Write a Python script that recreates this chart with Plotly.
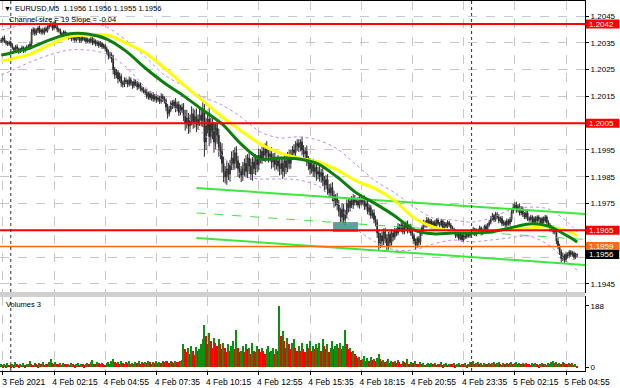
import pandas as pd
import plotly.graph_objects as go

# ---------------- data (prices stored as points above BASE: price = BASE + pts/100000)
BASE = 1.19
POINT = 1e-5
bar_start = "2021-02-03 23:30"   # EURUSD M5 bars
open_first = 1355

close_pts = [
    1360, 1368, 1355, 1350, 1345, 1352,
    1340, 1330, 1322, 1335, 1328, 1318, 1325, 1332, 1320, 1328, 1336, 1330,
    1345, 1390, 1400, 1385, 1395, 1405, 1390, 1398, 1388, 1402, 1395, 1408,
    1415, 1420, 1405, 1425, 1410, 1400, 1395, 1385, 1378, 1390, 1382, 1375,
    1370, 1380, 1365, 1372, 1360, 1375, 1368, 1358, 1370, 1362, 1366, 1355,
    1362, 1355, 1365, 1350, 1358, 1345, 1352, 1340, 1348, 1335, 1340, 1328,
    1315, 1300, 1305, 1290, 1250, 1230, 1240, 1215, 1225, 1200, 1195, 1210,
    1205, 1195, 1212, 1200, 1190, 1205, 1198, 1185, 1195, 1180, 1175, 1170,
    1165, 1150, 1160, 1145, 1155, 1140, 1150, 1138, 1145, 1132, 1150, 1140,
    1135, 1110, 1085, 1100, 1125, 1115, 1130, 1105, 1120, 1090, 1110, 1100,
    1080, 1050, 1070, 1040, 1060, 1085, 1055, 1075, 1045, 1065, 1080, 1060,
    1090, 980, 1040, 1065, 1000, 1050, 1020, 980, 1030, 1005, 960, 945,
    900, 870, 850, 880, 860, 895, 920, 900, 940, 910, 880, 870,
    855, 880, 900, 870, 920, 890, 860, 905, 880, 915, 895, 930,
    920, 945, 930, 955, 940, 925, 935, 905, 920, 895, 910, 890,
    880, 900, 870, 910, 885, 925, 900, 930, 950, 940, 965, 975,
    960, 980, 950, 935, 945, 910, 900, 880, 895, 870, 885, 860,
    870, 850, 865, 835, 820, 840, 805, 790, 810, 780, 760, 770,
    745, 720, 700, 730, 690, 710, 750, 735, 760, 745, 770, 755,
    760, 745, 770, 755, 765, 740, 750, 720, 735, 705, 715, 690,
    680, 640, 600, 630, 610, 645, 620, 590, 635, 605, 640, 625,
    650, 640, 665, 655, 670, 645, 660, 675, 650, 665, 640, 630,
    610, 595, 620, 605, 640, 660, 680, 670, 690, 675, 685, 670,
    680, 665, 690, 675, 670, 685, 660, 675, 665, 680, 670, 660,
    655, 645, 630, 640, 620, 635, 615, 630, 625, 640, 630, 645,
    640, 655, 635, 650, 645, 660, 640, 650, 665, 655, 670, 680,
    695, 705, 690, 710, 700, 685, 695, 675, 680, 670, 685, 675,
    690, 720, 735, 745, 725, 740, 715, 730, 710, 700, 715, 695,
    690, 700, 680, 695, 685, 700, 690, 675, 695, 685, 700, 680,
    670, 655, 660, 645, 650, 610, 590, 570, 545, 555, 540, 560,
    555, 570, 560, 565, 550, 562, 560,
]

hi_ext = [
    8, 6, 10, 5, 7, 6,
    6, 8, 5, 7, 9, 4, 6, 8, 5, 7, 6, 8,
    10, 12, 8, 6, 9, 7, 10, 5, 8, 6, 9, 7,
    8, 10, 6, 5, 9, 7, 6, 8, 5, 7, 6, 8,
    6, 8, 5, 7, 9, 6, 5, 8, 6, 7, 5, 6,
    7, 5, 8, 6, 9, 5, 7, 6, 8, 5, 7, 6,
    8, 10, 12, 9, 15, 10, 12, 8, 14, 10, 9, 11,
    10, 8, 12, 9, 7, 11, 8, 10, 9, 7, 8, 10,
    9, 12, 8, 10, 7, 11, 9, 8, 10, 7, 12, 9,
    10, 8, 12, 15, 9, 11, 8, 14, 10, 12, 9, 13,
    25, 20, 30, 18, 22, 28, 20, 25, 30, 18, 24, 26,
    40, 35, 30, 25, 45, 20, 28, 35, 22, 30, 25, 20,
    30, 25, 20, 28, 22, 18, 25, 30, 20, 24, 18, 22,
    20, 25, 18, 30, 15, 22, 28, 18, 24, 20, 16, 25,
    22, 18, 25, 20, 28, 16, 22, 25, 18, 20, 15, 22,
    30, 25, 20, 28, 22, 18, 25, 20, 15, 22, 18, 15,
    15, 10, 20, 18, 15, 22, 18, 20, 16, 22, 18, 20,
    18, 20, 15, 22, 18, 16, 20, 18, 15, 20, 18, 15,
    20, 18, 15, 22, 18, 16, 15, 20, 12, 18, 15, 12,
    12, 15, 10, 14, 12, 15, 10, 14, 12, 10, 12, 14,
    15, 12, 14, 10, 15, 12, 14, 16, 10, 12, 14, 10,
    10, 8, 12, 9, 10, 8, 11, 9, 12, 8, 10, 9,
    8, 10, 7, 9, 10, 8, 9, 7, 10, 8, 9, 7,
    6, 8, 5, 7, 6, 8, 5, 7, 6, 8, 5, 7,
    7, 5, 8, 6, 7, 5, 8, 6, 7, 5, 8, 6,
    6, 8, 5, 7, 6, 8, 5, 7, 6, 8, 7, 9,
    8, 10, 7, 9, 8, 10, 7, 9, 8, 7, 9, 8,
    10, 12, 15, 10, 12, 9, 11, 10, 9, 8, 10, 9,
    7, 8, 6, 7, 8, 6, 7, 8, 6, 7, 8, 6,
    8, 7, 9, 8, 10, 9, 12, 10, 9, 12, 8, 10,
    8, 6, 7, 8, 6, 5, 0,
]

lo_ext = [
    6, 8, 5, 9, 7, 6,
    8, 5, 9, 6, 7, 10, 6, 5, 8, 6, 7, 5,
    6, 8, 10, 9, 7, 8, 6, 9, 7, 8, 6, 7,
    7, 6, 9, 8, 6, 10, 7, 9, 8, 6, 9, 7,
    8, 6, 9, 7, 8, 6, 9, 7, 8, 6, 7, 9,
    6, 8, 7, 9, 6, 8, 7, 9, 6, 8, 7, 10,
    10, 12, 9, 14, 18, 15, 12, 16, 10, 14, 12, 10,
    9, 11, 8, 10, 12, 9, 10, 12, 8, 11, 10, 9,
    10, 9, 12, 8, 11, 10, 9, 12, 8, 10, 9, 11,
    12, 15, 18, 10, 9, 12, 10, 14, 11, 13, 10, 12,
    22, 28, 20, 30, 25, 18, 26, 22, 28, 20, 25, 22,
    25, 55, 30, 28, 35, 25, 30, 40, 28, 32, 35, 30,
    35, 40, 25, 30, 22, 28, 20, 25, 22, 28, 30, 25,
    25, 20, 28, 22, 25, 30, 22, 25, 20, 24, 28, 20,
    20, 22, 18, 25, 20, 22, 18, 25, 20, 22, 18, 20,
    25, 22, 28, 20, 25, 18, 22, 20, 18, 20, 15, 18,
    18, 15, 20, 22, 18, 20, 25, 22, 18, 20, 22, 25,
    20, 18, 22, 20, 25, 18, 22, 20, 18, 22, 25, 20,
    20, 18, 22, 20, 15, 18, 15, 18, 15, 12, 15, 12,
    12, 10, 14, 12, 10, 14, 12, 10, 14, 12, 10, 14,
    15, 18, 25, 15, 20, 15, 18, 15, 12, 15, 12, 15,
    10, 12, 9, 10, 12, 9, 10, 8, 12, 9, 10, 12,
    12, 15, 10, 12, 9, 10, 8, 9, 10, 8, 9, 10,
    7, 8, 6, 7, 8, 6, 7, 8, 6, 7, 8, 6,
    8, 6, 9, 7, 8, 6, 9, 7, 8, 6, 7, 8,
    7, 8, 6, 7, 8, 6, 9, 7, 6, 8, 7, 6,
    7, 8, 9, 7, 8, 9, 7, 10, 8, 9, 7, 8,
    8, 9, 8, 10, 9, 8, 10, 9, 10, 8, 9, 10,
    8, 7, 9, 8, 7, 9, 8, 7, 8, 9, 7, 8,
    8, 10, 9, 8, 10, 12, 10, 12, 15, 10, 12, 9,
    10, 8, 9, 8, 10, 7, 10,
]

volumes = [
    8, 5, 10, 6, 12, 7,
    6, 9, 5, 14, 8, 6, 10, 7, 12, 5, 8, 9,
    18, 10, 7, 12, 9, 6, 11, 8, 14, 7, 10, 9,
    15, 25, 12, 9, 14, 10, 8, 12, 7, 11, 9, 8,
    10, 7, 12, 8, 6, 9, 13, 7, 10, 8, 6, 9,
    11, 8, 14, 22, 10, 9, 16, 12, 8, 13, 10, 7,
    12, 15, 10, 18, 24, 14, 11, 16, 9, 20, 13, 10,
    14, 11, 18, 10, 13, 9, 15, 12, 17, 10, 14, 11,
    16, 12, 18, 14, 10, 15, 13, 19, 11, 16, 12, 18,
    14, 20, 17, 13, 19, 15, 12, 18, 16, 14, 20, 22,
    70, 55, 45, 60, 40, 65, 50, 38, 62, 48, 55, 72,
    85, 130, 95, 70, 105, 80, 60, 90, 75, 65, 85, 70,
    55, 75, 60, 45, 70, 50, 65, 80, 55, 115, 60, 45,
    50, 65, 45, 70, 55, 60, 40, 75, 50, 45, 65, 55,
    45, 60, 50, 40, 55, 65, 45, 50, 60, 40, 55, 48,
    188, 95, 110, 80, 60, 90, 70, 55, 75, 85, 60, 50,
    65, 50, 75, 55, 45, 70, 60, 80, 50, 65, 55, 70,
    60, 75, 50, 85, 65, 55, 70, 45, 60, 80, 55, 65,
    70, 60, 75, 55, 65, 115, 70, 55, 60, 45, 50, 40,
    35, 28, 30, 22, 25, 35, 20, 28, 18, 30, 22, 25,
    20, 28, 40, 25, 18, 22, 15, 20, 25, 12, 18, 15,
    18, 12, 22, 15, 10, 20, 14, 12, 25, 10, 16, 12,
    12, 18, 10, 8, 14, 9, 12, 7, 10, 13, 8, 11,
    9, 12, 7, 10, 8, 14, 6, 9, 11, 7, 10, 8,
    8, 11, 6, 9, 13, 7, 10, 8, 12, 6, 9, 14,
    10, 18, 8, 12, 15, 9, 11, 7, 13, 10, 8, 12,
    9, 12, 14, 8, 11, 16, 10, 7, 12, 9, 13, 8,
    11, 14, 9, 12, 16, 10, 13, 8, 11, 9, 12, 10,
    9, 7, 11, 8, 12, 10, 6, 9, 13, 8, 10, 7,
    12, 9, 14, 18, 11, 15, 10, 13, 9, 16, 12, 10,
    8, 11, 9, 12, 7, 10, 3,
]

# indicator lines, sampled at these times (points above BASE)
ma_times = (["2021-02-03 23:30"]
            + [t.strftime("%Y-%m-%d %H:%M") for t in pd.date_range("2021-02-04 00:00", "2021-02-05 05:00", freq="1h")]
            + ["2021-02-05 05:30"])
yellow_ma_pts = [1282, 1290, 1308, 1342, 1372, 1379, 1379, 1349, 1312, 1256, 1193, 1133, 1073, 1021, 972, 939,
                 920, 905, 875, 834, 805, 760, 696, 663, 648, 644, 648, 655, 659, 663, 648, 629]
green_ma_pts = [1304, 1312, 1331, 1360, 1383, 1383, 1364, 1319, 1256, 1200, 1152, 1099, 1047, 972, 916, 920,
                916, 898, 849, 790, 749, 704, 652, 637, 640, 640, 644, 659, 674, 666, 629, 607]
upper_band_pts = [1398, 1405, 1428, 1439, 1446, 1431, 1409, 1360, 1297, 1230, 1189, 1148, 1118, 1073, 1017, 995,
                  999, 987, 954, 894, 834, 790, 737, 696, 689, 681, 696, 726, 737, 730, 681, 644]
lower_band_pts = [1230, 1245, 1278, 1304, 1323, 1323, 1308, 1260, 1185, 1133, 1084, 1013, 931, 857, 842, 842,
                  838, 816, 752, 655, 607, 577, 577, 599, 614, 607, 614, 622, 629, 596, 532, 502]

channel_times = ["2021-02-04 09:40", "2021-02-05 05:55"]
channel_upper_pts = [808, 711]
channel_mid_pts = [715, 616]
channel_lower_pts = [622, 521]

red_levels = [1.2042, 1.2005, 1.1965]
orange_level = 1.1959
last_price = 1.1956

zones = [  # (start, end, low price, high price)
    ("2021-02-04 10:13", "2021-02-04 10:47", 1.20025, 1.20051),
    ("2021-02-04 16:47", "2021-02-04 18:05", 1.19644, 1.19681),
]

price_ticks = [1.1945, 1.1955, 1.1965, 1.1975, 1.1985, 1.1995, 1.2005, 1.2015, 1.2025, 1.2035, 1.2045]
hidden_tick_labels = [1.1955, 1.1965, 1.2005]   # covered by the price boxes
time_ticks = ["2021-02-03 23:35", "2021-02-04 02:15", "2021-02-04 04:55", "2021-02-04 07:35",
              "2021-02-04 10:15", "2021-02-04 12:55", "2021-02-04 15:35", "2021-02-04 18:15",
              "2021-02-04 20:55", "2021-02-04 23:35", "2021-02-05 02:15", "2021-02-05 04:55"]
time_labels = ["3 Feb 2021", "4 Feb 02:15", "4 Feb 04:55", "4 Feb 07:35", "4 Feb 10:15", "4 Feb 12:55",
               "4 Feb 15:35", "4 Feb 18:15", "4 Feb 20:55", "4 Feb 23:35", "5 Feb 02:15", "5 Feb 04:55"]
day_separators = ["2021-02-04 00:00", "2021-02-05 00:00"]

n = len(close_pts)
assert len(hi_ext) == n and len(lo_ext) == n and len(volumes) == n, (n, len(hi_ext), len(lo_ext), len(volumes))

# ---------------- build
def px(p):
    return round(BASE + p * POINT, 5)

times = pd.date_range(bar_start, periods=n, freq="5min")
opens = [open_first] + close_pts[:-1]
highs = [max(o, c) + h for o, c, h in zip(opens, close_pts, hi_ext)]
lows = [min(o, c) - l for o, c, l in zip(opens, close_pts, lo_ext)]

vol_colors = ["#0F8F0F"] + ["#0F8F0F" if volumes[i] > volumes[i - 1] else "#FF0000" for i in range(1, n)]

FONT = "Liberation Sans"
FS = 8.5
FS_INFO = 7.5
Y_RANGE = [1.19420, 1.20506]
MAIN_PX = 291.0                       # height of the price pane in pixels
PRICE_PER_PX = (Y_RANGE[1] - Y_RANGE[0]) / MAIN_PX

fig = go.Figure()

# bands
for arr in (upper_band_pts, lower_band_pts):
    fig.add_trace(go.Scatter(x=ma_times, y=[px(v) for v in arr], mode="lines",
                             line=dict(color="#C08BE8", width=1, dash="dot", shape="spline", smoothing=0.8),
                             hoverinfo="skip", showlegend=False, xaxis="x", yaxis="y"))

# channel
fig.add_trace(go.Scatter(x=channel_times, y=[px(v) for v in channel_mid_pts], mode="lines",
                         line=dict(color="#44E044", width=1, dash="dash"), showlegend=False))
for arr in (channel_upper_pts, channel_lower_pts):
    fig.add_trace(go.Scatter(x=channel_times, y=[px(v) for v in arr], mode="lines",
                             line=dict(color="#3EE63E", width=2), showlegend=False))

# candles
fig.add_trace(go.Candlestick(
    x=times, open=[px(v) for v in opens], high=[px(v) for v in highs],
    low=[px(v) for v in lows], close=[px(v) for v in close_pts],
    increasing=dict(line=dict(color="#2A2A2A", width=1), fillcolor="#FFFFFF"),
    decreasing=dict(line=dict(color="#2A2A2A", width=1), fillcolor="#2A2A2A"),
    whiskerwidth=0, showlegend=False, xaxis="x", yaxis="y"))

# moving averages
fig.add_trace(go.Scatter(x=ma_times, y=[px(v) for v in yellow_ma_pts], mode="lines",
                         line=dict(color="#FFFF00", width=3, shape="spline", smoothing=0.8), showlegend=False))
fig.add_trace(go.Scatter(x=ma_times, y=[px(v) for v in green_ma_pts], mode="lines",
                         line=dict(color="#0A800A", width=3, shape="spline", smoothing=0.8), showlegend=False))

# volumes
fig.add_trace(go.Bar(x=times, y=volumes, marker=dict(color=vol_colors, line=dict(width=0)),
                     width=5 * 60 * 1000 * 0.9, showlegend=False, xaxis="x2", yaxis="y2"))

shapes = []
for lv in red_levels:
    shapes.append(dict(type="line", xref="x domain", yref="y", x0=0, x1=1, y0=lv, y1=lv,
                       line=dict(color="#FF0000", width=2)))
shapes.append(dict(type="line", xref="x domain", yref="y", x0=0, x1=1, y0=orange_level, y1=orange_level,
                   line=dict(color="#FF6A10", width=1.5)))
for s, e, lo, hi in zones:
    shapes.append(dict(type="rect", xref="x", yref="y", x0=s, x1=e, y0=lo, y1=hi, layer="below",
                       fillcolor="#5F9EA0", line=dict(width=0)))
for d in day_separators:
    for yr in ("y domain", "y2 domain"):
        shapes.append(dict(type="line", xref="x", yref=yr, x0=d, x1=d, y0=0, y1=1,
                           line=dict(color="#303030", width=1, dash="dot")))
# pane separator band
shapes.append(dict(type="rect", xref="paper", yref="paper", x0=0, x1=1, y0=0.2, y1=0.2135,
                   fillcolor="#D0D0D0", line=dict(width=0)))

annotations = []
def price_box(val, bg):
    half = 4.5 * PRICE_PER_PX
    shapes.append(dict(type="rect", xref="paper", yref="y", x0=1.0015, x1=1.0585,
                       y0=val - half, y1=val + half, fillcolor=bg, line=dict(width=0), layer="above"))
    annotations.append(dict(xref="paper", yref="y", x=1.0, y=val, xanchor="left", yanchor="middle",
                            text=f"{val:.4f}", showarrow=False, borderpad=0,
                            font=dict(family=FONT, size=8, color="#FFFFFF"), xshift=3))
for lv in red_levels:
    price_box(lv, "#FF0000")
price_box(orange_level, "#FF6A10")
price_box(last_price, "#000000")

annotations += [
    dict(xref="paper", yref="paper", x=0.004, y=0.981, xanchor="left", yanchor="middle", showarrow=False,
         text="▼", font=dict(family=FONT, size=7, color="#000000")),
    dict(xref="paper", yref="paper", x=0.022, y=0.981, xanchor="left", yanchor="middle", showarrow=False,
         text="EURUSD,M5  1.1956 1.1956 1.1955 1.1956", font=dict(family=FONT, size=FS_INFO, color="#000000")),
    dict(xref="paper", yref="paper", x=0.012, y=0.951, xanchor="left", yanchor="middle", showarrow=False,
         text="Channel size = 19 Slope = -0.04", font=dict(family=FONT, size=FS_INFO, color="#000000")),
    dict(xref="paper", yref="paper", x=0.006, y=0.181, xanchor="left", yanchor="middle", showarrow=False,
         text="Volumes 3", font=dict(family=FONT, size=FS_INFO, color="#000000")),
]

x_range = ["2021-02-03 23:26:15", "2021-02-05 05:54:22"]
grid = dict(showgrid=True, gridcolor="#C8C8C8", griddash="dash", gridwidth=1)

fig.update_layout(
    width=620, height=388, margin=dict(l=0, r=35, t=1, b=17),
    paper_bgcolor="#FFFFFF", plot_bgcolor="#FFFFFF",
    font=dict(family=FONT, size=FS, color="#000000"),
    bargap=0, showlegend=False, shapes=shapes, annotations=annotations,
    xaxis=dict(domain=[0, 1], anchor="y", range=x_range, type="date", tickmode="array", tickvals=time_ticks,
               showticklabels=False, rangeslider=dict(visible=False), showline=True, linecolor="#000000",
               mirror=True, zeroline=False, **grid),
    yaxis=dict(domain=[0.2135, 1], anchor="x", side="right", range=Y_RANGE, tickmode="array",
               tickvals=price_ticks,
               ticktext=["" if v in hidden_tick_labels else f"{v:.4f}" for v in price_ticks],
               ticks="outside", ticklen=3, tickfont=dict(size=8),
               tickcolor="#000000", showline=True, linecolor="#000000", mirror=True, zeroline=False, **grid),
    xaxis2=dict(domain=[0, 1], anchor="y2", matches="x", range=x_range, type="date", tickmode="array",
                tickvals=time_ticks, ticktext=time_labels, ticks="outside", ticklen=3, tickcolor="#000000",
                ticklabelshift=21, showline=True, linecolor="#000000", mirror=True, zeroline=False, **grid),
    yaxis2=dict(domain=[0, 0.2], anchor="x2", side="right", range=[-12.3, 215.7], tickmode="array",
                tickvals=[0, 188], ticks="outside", ticklen=3, tickcolor="#000000", showgrid=False,
                tickfont=dict(size=8),
                showline=True, linecolor="#000000", mirror=True, zeroline=False),
)

fig.write_html("out.html", config={"displayModeBar": False},
               post_script="document.body.style.margin='0';document.body.style.overflow='hidden';")
